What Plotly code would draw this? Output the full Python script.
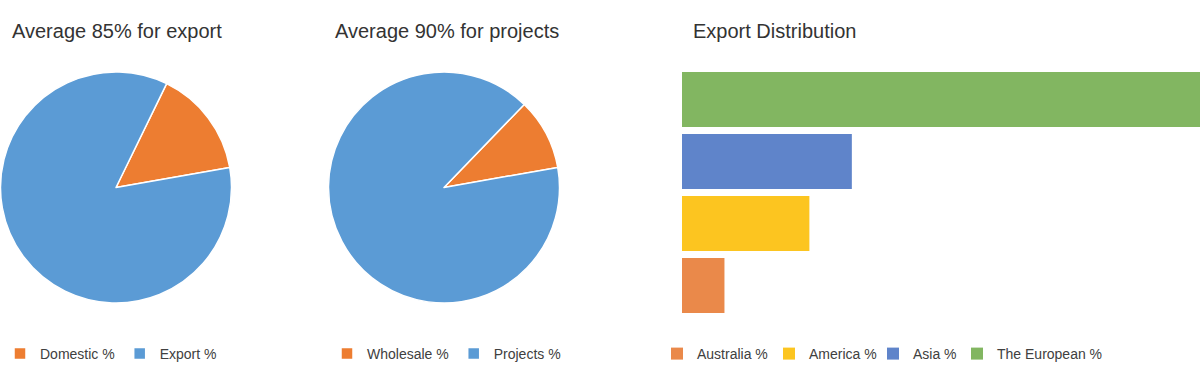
import plotly.graph_objects as go

# ---- data ----
pie1_labels = ["Domestic %", "Export %"]
pie1_values = [15, 85]
pie2_labels = ["Wholesale %", "Projects %"]
pie2_values = [10, 90]
bar_categories = ["Australia %", "America %", "Asia %", "The European %"]
bar_values = [5, 15, 20, 61]
titles = ["Average 85% for export", "Average 90% for projects", "Export Distribution"]

pie_colors = ["#ED7D31", "#5B9BD5"]
bar_colors = ["#EA894A", "#FCC520", "#5F84CA", "#82B661"]

W, H = 1200, 376
FONT = "Liberation Sans, Arial, sans-serif"
TXT = "#404040"

def px(x):
    return x / W

def py(y):
    return 1 - y / H

fig = go.Figure()

R = 115.5
fig.add_trace(go.Pie(
    labels=pie1_labels, values=pie1_values, sort=False, direction="clockwise",
    rotation=26, textinfo="none", hoverinfo="label+percent",
    marker=dict(colors=pie_colors, line=dict(color="white", width=1.5)),
    domain=dict(x=[px(116 - R), px(116 + R)], y=[py(187.5 + R), py(187.5 - R)]),
    legend="legend",
))
fig.add_trace(go.Pie(
    labels=pie2_labels, values=pie2_values, sort=False, direction="clockwise",
    rotation=44, textinfo="none", hoverinfo="label+percent",
    marker=dict(colors=pie_colors, line=dict(color="white", width=1.5)),
    domain=dict(x=[px(444 - R), px(444 + R)], y=[py(187.5 + R), py(187.5 - R)]),
    legend="legend2",
))

bar_legends = ["legend3", "legend4", "legend5", "legend6"]
for cat, val, col, lg in zip(bar_categories, bar_values, bar_colors, bar_legends):
    fig.add_trace(go.Bar(
        x=[val], y=[cat], orientation="h", name=cat,
        marker=dict(color=col, line=dict(width=0)),
        legend=lg, showlegend=True,
    ))

legend_common = dict(orientation="h", yanchor="middle", xanchor="left",
                     font=dict(family=FONT, size=14, color=TXT),
                     bgcolor="rgba(0,0,0,0)", itemclick=False)

legend_text_x = {"legend": 36, "legend2": 367,
                 "legend3": 697, "legend4": 809, "legend5": 913, "legend6": 997}
legends = {name: dict(x=px(max(0, tx - 40)), y=py(354), **legend_common)
           for name, tx in legend_text_x.items()}

fig.update_layout(
    width=W, height=H, autosize=False,
    margin=dict(l=0, r=0, t=0, b=0),
    paper_bgcolor="white", plot_bgcolor="white",
    barmode="overlay", bargap=0.113,
    xaxis=dict(domain=[px(682), 1.0], range=[0, 61], showgrid=False, zeroline=False,
               showticklabels=False, showline=False, fixedrange=True),
    yaxis=dict(domain=[py(316.5), py(68.5)], categoryorder="array",
               categoryarray=bar_categories, showgrid=False, zeroline=False,
               showticklabels=False, showline=False, fixedrange=True),
    showlegend=True,
    **legends,
)

for t, x in zip(titles, [10, 333, 691]):
    fig.add_annotation(text=t, x=px(x), y=py(31), xref="paper", yref="paper",
                       xanchor="left", yanchor="middle", showarrow=False,
                       font=dict(family=FONT, size=20, color="#333333"))

post = (
    "document.documentElement.style.margin='0px';"
    "document.body.style.margin='0px';document.body.style.padding='0px';"
    "document.body.style.overflow='hidden';"
    "var gd=document.getElementById('{plot_id}');"
    "gd.style.position='fixed';gd.style.left='0px';gd.style.top='0px';"
    "gd.style.width='1200px';gd.style.height='376px';"
    "Plotly.relayout(gd,{width:1200,height:376});"
)

fig.write_html("out.html", config={"displayModeBar": False, "responsive": False},
               post_script=post)
